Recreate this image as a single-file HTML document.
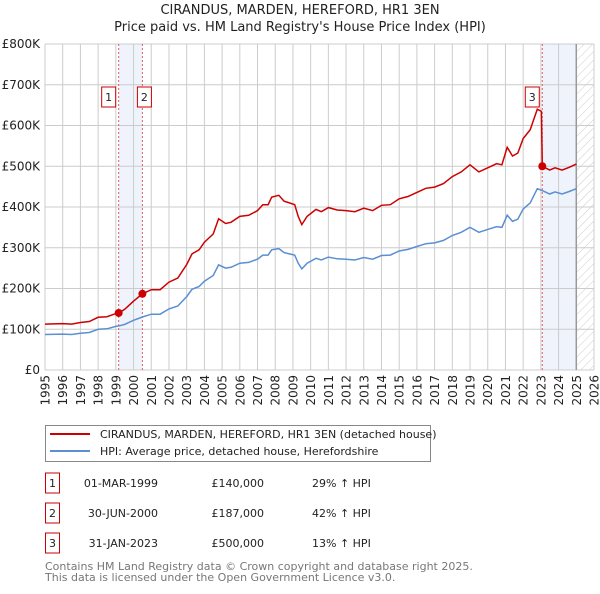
<!DOCTYPE html>
<html><head><meta charset="utf-8"><style>
body{margin:0;background:#fff;font-family:"DejaVu Sans","Liberation Sans",sans-serif;}
svg text{font-family:"DejaVu Sans","Liberation Sans",sans-serif;}
</style></head><body>
<svg id="c" width="600" height="590" xmlns="http://www.w3.org/2000/svg">
<defs><pattern id="hatch" width="6" height="6" patternUnits="userSpaceOnUse" patternTransform="rotate(45)"><line x1="0" y1="0" x2="0" y2="6" stroke="#ccc" stroke-width="1"/></pattern></defs>
<text x="300" y="14" text-anchor="middle" font-size="13" fill="#222">CIRANDUS, MARDEN, HEREFORD, HR1 3EN</text>
<text x="300" y="31" text-anchor="middle" font-size="13" fill="#222">Price paid vs. HM Land Registry's House Price Index (HPI)</text>
<g id="plot"></g>
<g>
<rect x="45.5" y="425.5" width="385" height="36" fill="#fff" stroke="#888"/>
<line x1="50" y1="434" x2="90" y2="434" stroke="#cc0000" stroke-width="2"/>
<text x="100" y="438" font-size="11" fill="#222">CIRANDUS, MARDEN, HEREFORD, HR1 3EN (detached house)</text>
<line x1="50" y1="451" x2="90" y2="451" stroke="#5b8fd1" stroke-width="2"/>
<text x="100" y="455" font-size="11" fill="#222">HPI: Average price, detached house, Herefordshire</text>
</g>
<g id="table" font-size="11" fill="#222"></g>
<text x="45" y="570" font-size="11" fill="#777">Contains HM Land Registry data © Crown copyright and database right 2025.</text>
<text x="45" y="581" font-size="11" fill="#777">This data is licensed under the Open Government Licence v3.0.</text>
</svg>
<script>
const hpiYears=[1995,1996,1996.5,1997,1997.5,1998,1998.5,1999,1999.2,1999.5,2000,2000.5,2001,2001.5,2002,2002.5,2003,2003.3,2003.7,2004,2004.5,2004.8,2005.2,2005.5,2006,2006.5,2007,2007.3,2007.6,2007.8,2008.2,2008.5,2008.8,2009.1,2009.3,2009.5,2009.8,2010.3,2010.6,2011,2011.5,2012,2012.5,2013,2013.5,2014,2014.5,2015,2015.5,2016,2016.5,2017,2017.5,2018,2018.5,2019,2019.5,2020,2020.5,2020.8,2021.1,2021.4,2021.7,2022,2022.4,2022.8,2023.1,2023.5,2023.8,2024.2,2024.6,2025];
const hpiValues=[87,88,87,90,92,100,101,107,108.5,112,122,130,137,137,150,157,180,198,205,218,232,258,250,252,262,264,272,282,282,295,298,288,285,282,262,248,262,274,270,277,273,272,270,276,272,281,282,292,296,303,310,312,318,330,338,350,338,345,352,350,380,365,370,395,410,445,440,432,437,432,438,445];
const saleYears=[1999.16,2000.5,2023.08];
const salePrices=[140,187,500];
const saleLabels=["1","2","3"];
const saleDates=["01-MAR-1999","30-JUN-2000","31-JAN-2023"];
const salePriceText=["£140,000","£187,000","£500,000"];
const saleHpiText=["29% ↑ HPI","42% ↑ HPI","13% ↑ HPI"];
const yTicks=[0,100,200,300,400,500,600,700,800];
const yTickLabels=["£0","£100K","£200K","£300K","£400K","£500K","£600K","£700K","£800K"];
const xTicks=[1995,1996,1997,1998,1999,2000,2001,2002,2003,2004,2005,2006,2007,2008,2009,2010,2011,2012,2013,2014,2015,2016,2017,2018,2019,2020,2021,2022,2023,2024,2025,2026];

const X0=45,X1=594,Y0=370,Y1=44;
const xs=y=>X0+(y-1995)/(2026-1995)*(X1-X0);
const ys=v=>Y0-v/800*(Y0-Y1);
const NS="http://www.w3.org/2000/svg";
const plot=document.getElementById('plot');
function mk(tag,attrs,parent){const e=document.createElementNS(NS,tag);for(const k in attrs)e.setAttribute(k,attrs[k]);(parent||plot).appendChild(e);return e;}
function hpiAt(t){for(let i=1;i<hpiYears.length;i++){if(t<=hpiYears[i]){const f=(t-hpiYears[i-1])/(hpiYears[i]-hpiYears[i-1]);return hpiValues[i-1]+f*(hpiValues[i]-hpiValues[i-1]);}}return hpiValues[hpiValues.length-1];}
// shaded regions
let r=mk('rect',{x:xs(saleYears[0]),y:Y1,width:xs(saleYears[1])-xs(saleYears[0]),height:Y0-Y1,fill:'#eef3fc'});


r=mk('rect',{x:xs(saleYears[2]),y:Y1,width:xs(2025)-xs(saleYears[2]),height:Y0-Y1,fill:'#eef3fc'});


r=mk('rect',{x:xs(2025),y:Y1,width:X1-xs(2025),height:Y0-Y1,fill:'url(#hatch)'});


// grid
xTicks.forEach(t=>{const l=mk('line',{x1:xs(t),x2:xs(t),y1:Y1,y2:Y0,stroke:'#ccc','stroke-width':1});


const tx=mk('text',{x:0,y:0,'font-size':12,fill:'#222','text-anchor':'end',transform:`translate(${xs(t)+4.5},${Y0+5}) rotate(-90)`});tx.textContent=t;

});
yTicks.forEach((v,i)=>{const l=mk('line',{x1:X0,x2:X1,y1:ys(v),y2:ys(v),stroke:'#ccc','stroke-width':1});


const tx=mk('text',{x:X0-5,y:ys(v)+4,'font-size':12,fill:'#222','text-anchor':'end'});tx.textContent=yTickLabels[i];

});
let a=mk('line',{x1:xs(2025),x2:xs(2025),y1:Y1,y2:Y0,stroke:'#999','stroke-width':1.5});


// sale lines
saleYears.forEach((t,i)=>{const l=mk('line',{x1:xs(t),x2:xs(t),y1:Y1,y2:Y0,stroke:'#e06060','stroke-width':1,'stroke-dasharray':'2,2'});

});
// hpi line
let d=hpiYears.map((t,i)=>(i?'L':'M')+xs(t).toFixed(1)+','+ys(hpiValues[i]).toFixed(1)).join('');
let p=mk('path',{d:d,fill:'none',stroke:'#5b8fd1','stroke-width':1.5});


// property line: HPI scaled by ratio at each sale
const ratios=saleYears.map((t,i)=>salePrices[i]/hpiAt(t));
function ratioAt(t){if(t<=saleYears[0])return ratios[0];if(t<saleYears[1]){const f=(t-saleYears[0])/(saleYears[1]-saleYears[0]);return ratios[0]+f*(ratios[1]-ratios[0]);}if(t<saleYears[2])return ratios[1];return ratios[2];}
const pts=[];
hpiYears.forEach((t,i)=>{if(t>saleYears[2]-0.05&&t<saleYears[2])return;pts.push([t,hpiValues[i]*ratioAt(t)]);});
saleYears.forEach((t,i)=>{pts.push([t,salePrices[i]]);if(i==2)pts.push([t-0.05,hpiAt(t-0.05)*ratios[1]]);});
pts.sort((a,b)=>a[0]-b[0]);
d=pts.map((q,i)=>(i?'L':'M')+xs(q[0]).toFixed(1)+','+ys(q[1]).toFixed(1)).join('');
p=mk('path',{d:d,fill:'none',stroke:'#cc0000','stroke-width':1.5});


saleYears.forEach((t,i)=>{const c=mk('circle',{cx:xs(t),cy:ys(salePrices[i]),r:4,fill:'#cc0000'});


const bx=xs(t)+(i==2?-3:(i==0?-3:-3));const g=mk('g',{});


const off=i==0?-3:(i==1?-3:-3);
mk('rect',{x:xs(t)-(i==0?10:(i==1?-3:10))-7+ (i==1?-1:0),y:87,width:14,height:20,fill:'#fff',stroke:'#cc0000'},g);
const tx=mk('text',{x:xs(t)-(i==0?10:(i==1?-3:10))+(i==1?-1:0),y:101,'font-size':11,fill:'#222','text-anchor':'middle'},g);tx.textContent=saleLabels[i];});
// table
const tb=document.getElementById('table');
saleYears.forEach((t,i)=>{const y=483+i*30;const g=mk('g',{},tb);


mk('rect',{x:45.5,y:y-10,width:14,height:20,fill:'#fff',stroke:'#cc0000'},g);
let tx=mk('text',{x:52.5,y:y+4,'text-anchor':'middle'},g);tx.textContent=saleLabels[i];
tx=mk('text',{x:158,y:y+4,'text-anchor':'end'},g);tx.textContent=saleDates[i];
tx=mk('text',{x:264,y:y+4,'text-anchor':'end'},g);tx.textContent=salePriceText[i];
tx=mk('text',{x:312,y:y+4},g);tx.textContent=saleHpiText[i];});
</script>
</body></html>
